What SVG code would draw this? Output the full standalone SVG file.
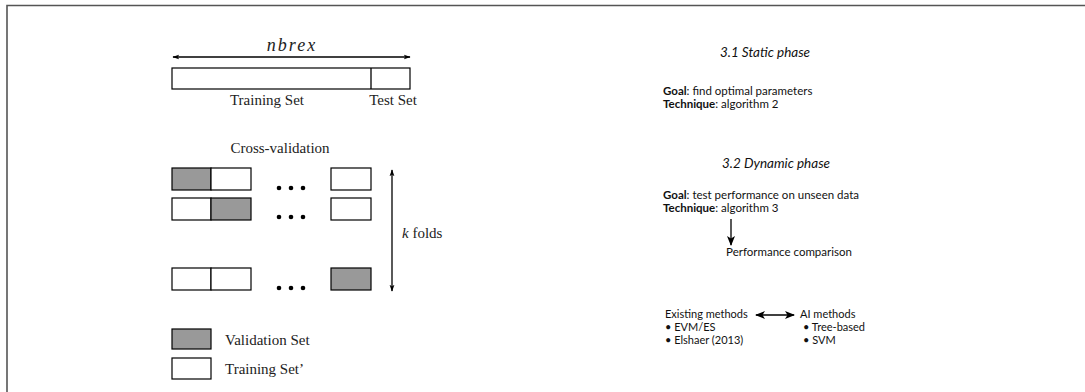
<svg xmlns="http://www.w3.org/2000/svg" width="1085" height="392" viewBox="0 0 1085 392">
  <defs>
    <marker id="ah" viewBox="0 0 10 10" refX="9" refY="5" markerWidth="7" markerHeight="7" orient="auto-start-reverse" markerUnits="userSpaceOnUse">
      <path d="M0,1.5 L10,5 L0,8.5 L2.5,5 Z" fill="#000"/>
    </marker>
    <marker id="ahb" viewBox="0 0 10 10" refX="9" refY="5" markerWidth="10" markerHeight="10" orient="auto-start-reverse" markerUnits="userSpaceOnUse">
      <path d="M0,1 L10,5 L0,9 L2.5,5 Z" fill="#000"/>
    </marker>
    <style>
      .cm { font-family: "Liberation Serif", "DejaVu Serif", serif; font-size: 15px; fill: #222; }
      .math { font-family: "Liberation Serif", serif; font-style: italic; }
      .gs { font-family: "Lato", "Open Sans", sans-serif; font-size: 11.5px; fill: #111; }
      .head { font-size: 13.5px; font-style: italic; }
      .sm { font-size: 11px; }
      .gsb { font-weight: bold; }
      .box { fill: #fff; stroke: #000; stroke-width: 1.2; }
      .val { fill: #999; stroke: #000; stroke-width: 1.2; }
      .ln { stroke: #000; stroke-width: 1.3; fill: none; }
      .dot { fill: #000; }
    </style>
  </defs>
  <rect width="1085" height="392" fill="#fff"/>
  <!-- frame (top and left edges) -->
  <path d="M7,392 V5.5 H1085" fill="none" stroke="#555" stroke-width="1.6"/>

  <!-- dataset split -->
  <g id="dataset">
    <line class="ln" x1="173" y1="57" x2="410" y2="57" marker-start="url(#ah)" marker-end="url(#ah)"/>
    <text class="math" x="292" y="51" font-size="18" text-anchor="middle" letter-spacing="2" fill="#222">nbrex</text>
    <rect class="box" x="172" y="68" width="238" height="21"/>
    <line class="ln" x1="371" y1="68" x2="371" y2="89" stroke-width="1.2"/>
    <text class="cm" x="267" y="105" text-anchor="middle">Training Set</text>
    <text class="cm" x="393" y="105" text-anchor="middle">Test Set</text>
  </g>

  <!-- cross-validation folds -->
  <g id="cross-validation">
    <text class="cm" x="280" y="153" text-anchor="middle">Cross-validation</text>
    <g id="fold-1">
      <rect class="val" x="172" y="168" width="39" height="22"/>
      <rect class="box" x="211" y="168" width="40" height="22"/>
      <circle class="dot" cx="279" cy="188" r="2.3"/>
      <circle class="dot" cx="291" cy="188" r="2.3"/>
      <circle class="dot" cx="303" cy="188" r="2.3"/>
      <rect class="box" x="331" y="168" width="40" height="22"/>
    </g>
    <g id="fold-2">
      <rect class="box" x="172" y="198" width="39" height="22"/>
      <rect class="val" x="211" y="198" width="40" height="22"/>
      <circle class="dot" cx="279" cy="217" r="2.3"/>
      <circle class="dot" cx="291" cy="217" r="2.3"/>
      <circle class="dot" cx="303" cy="217" r="2.3"/>
      <rect class="box" x="331" y="198" width="40" height="22"/>
    </g>
    <g id="fold-k">
      <rect class="box" x="172" y="268" width="39" height="22"/>
      <rect class="box" x="211" y="268" width="40" height="22"/>
      <circle class="dot" cx="279" cy="288" r="2.3"/>
      <circle class="dot" cx="291" cy="288" r="2.3"/>
      <circle class="dot" cx="303" cy="288" r="2.3"/>
      <rect class="val" x="331" y="268" width="40" height="22"/>
    </g>
  </g>

  <g id="k-folds">
    <line class="ln" x1="392" y1="170" x2="392" y2="291" marker-start="url(#ah)" marker-end="url(#ah)"/>
    <text class="cm" x="402" y="238"><tspan class="math">k</tspan> folds</text>
  </g>

  <!-- legend -->
  <g id="legend">
    <rect class="val" x="172" y="329" width="39" height="20"/>
    <text class="cm" x="225" y="345">Validation Set</text>
    <rect class="box" x="172" y="358" width="39" height="21"/>
    <text class="cm" x="225" y="374">Training Set’</text>
  </g>

  <!-- static phase -->
  <g id="static-phase">
    <text class="gs head" x="765" y="57" text-anchor="middle">3.1 Static phase</text>
    <text class="gs" x="663" y="95"><tspan class="gsb">Goal</tspan>: find optimal parameters</text>
    <text class="gs" x="663" y="108"><tspan class="gsb">Technique</tspan>: algorithm 2</text>
  </g>

  <!-- dynamic phase -->
  <g id="dynamic-phase">
    <text class="gs head" x="776" y="168" text-anchor="middle">3.2 Dynamic phase</text>
    <text class="gs" x="663" y="199"><tspan class="gsb">Goal</tspan>: test performance on unseen data</text>
    <text class="gs" x="663" y="212"><tspan class="gsb">Technique</tspan>: algorithm 3</text>
  </g>

  <g id="performance-comparison">
    <text class="gs" x="789" y="256" font-size="13.5" text-anchor="middle">Performance comparison</text>
  </g>

  <g id="existing-methods">
    <text class="gs sm" x="665" y="318">Existing methods</text>
    <text class="gs sm" x="665" y="331">• EVM/ES</text>
    <text class="gs sm" x="665" y="344">• Elshaer (2013)</text>
  </g>

  <g id="ai-methods">
    <text class="gs sm" x="800" y="318">AI methods</text>
    <text class="gs sm" x="803" y="331">• Tree-based</text>
    <text class="gs sm" x="803" y="344">• SVM</text>
  </g>

  <g id="connectors">
    <line class="ln" x1="731" y1="219" x2="731" y2="245" stroke-width="1.6" marker-end="url(#ahb)"/>
    <line class="ln" x1="756" y1="315" x2="794" y2="315" stroke-width="1.6" marker-start="url(#ahb)" marker-end="url(#ahb)"/>
  </g>
</svg>
